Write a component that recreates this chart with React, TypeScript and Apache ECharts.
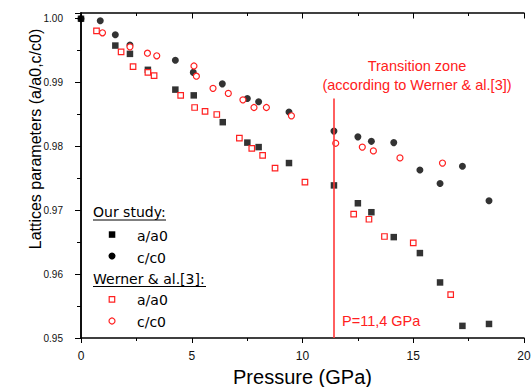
import React, { useEffect, useRef } from "react";
import * as echarts from "echarts";

// Our study
const oursA: number[][] = [
  [0, 1.0], [1.55, 0.9958], [2.21, 0.9945], [3.02, 0.992], [4.26, 0.9889],
  [5.09, 0.988], [6.4, 0.9838], [7.51, 0.9806], [8.02, 0.9799], [9.39, 0.9774],
  [11.42, 0.9739], [12.5, 0.9711], [13.11, 0.9697], [14.12, 0.9658], [15.3, 0.9633],
  [16.21, 0.9587], [17.22, 0.9519], [18.42, 0.9522],
];
const oursC: number[][] = [
  [0, 1.0], [0.87, 0.9997], [1.55, 0.9975], [2.21, 0.9959], [4.26, 0.9935],
  [5.07, 0.9916], [6.38, 0.9898], [7.51, 0.9875], [8.02, 0.987], [9.39, 0.9854],
  [11.42, 0.9824], [12.5, 0.9815], [13.11, 0.9808], [14.12, 0.9806], [15.3, 0.9763],
  [16.21, 0.9742], [17.22, 0.9769], [18.42, 0.9715],
];
// Werner & al.[3]
const wernerA: number[][] = [
  [0.7, 0.9981], [1.81, 0.9948], [2.35, 0.9925], [3.02, 0.9916], [3.3, 0.9911],
  [4.5, 0.988], [5.13, 0.9861], [5.6, 0.9855], [6.13, 0.985], [7.15, 0.9813],
  [7.71, 0.9797], [8.2, 0.9786], [8.76, 0.9766], [10.11, 0.9744], [12.31, 0.9694],
  [13.0, 0.9686], [13.7, 0.9659], [15.0, 0.9649], [16.69, 0.9568],
];
const wernerC: number[][] = [
  [0.97, 0.9978], [2.21, 0.9956], [3.0, 0.9946], [3.42, 0.9942], [5.1, 0.9926],
  [5.21, 0.991], [5.96, 0.9891], [6.65, 0.9883], [7.31, 0.9873], [7.81, 0.9861],
  [8.37, 0.9861], [9.5, 0.9848], [11.5, 0.9805], [12.7, 0.9799], [13.2, 0.9793],
  [14.4, 0.9782], [16.32, 0.9774],
];

const transitionP = 11.4;
const transitionTop = 0.9875;
const xMin = 0, xMax = 20, xInterval = 5;
const yMin = 0.95, yMax = 1.0009, yInterval = 0.01;

const RED = "#ff2020";
const AX = "Liberation Sans";
const LEG = "DejaVu Sans";

export default function App() {
  const ref = useRef<HTMLDivElement>(null);
  useEffect(() => {
    document.body.style.margin = "0";
    document.body.style.overflow = "hidden";
    if (!ref.current) return;
    const chart = echarts.init(ref.current, null, { renderer: "svg" });
    const axisLine = { show: true, lineStyle: { color: "#000", width: 1.5 } };
    const yLabelFmt = (v: number) =>
      Math.abs(v * 100 - Math.round(v * 100)) < 1e-6 ? v.toFixed(2) : "";
    chart.setOption({
      animation: false,
      backgroundColor: "#fff",
      grid: { left: 81, right: 7, top: 13, bottom: 49, containLabel: false, outerBoundsMode: "none" },
      xAxis: [
        {
          type: "value", position: "bottom", min: xMin, max: xMax, interval: xInterval,
          axisLine,
          axisTick: { show: true, inside: false, length: 5, lineStyle: { color: "#000", width: 1 } },
          minorTick: { show: true, splitNumber: 2, length: 3, lineStyle: { color: "#000", width: 1 } },
          splitLine: { show: false },
          axisLabel: { fontFamily: AX, fontSize: 12, color: "#111", margin: 12 },
          name: "Pressure (GPa)", nameLocation: "middle", nameGap: 28,
          nameTextStyle: { fontFamily: AX, fontSize: 20, color: "#000" },
        },
        {
          type: "value", position: "top", min: xMin, max: xMax, interval: xInterval,
          axisLine,
          axisTick: { show: true, inside: true, length: 5.5, lineStyle: { color: "#000", width: 1 } },
          minorTick: { show: true, splitNumber: 2, length: 3, lineStyle: { color: "#000", width: 1 } },
          splitLine: { show: false },
          axisLabel: { show: false },
        },
      ],
      yAxis: [
        {
          type: "value", position: "left", min: yMin, max: yMax, interval: yInterval,
          axisLine,
          axisTick: { show: true, inside: false, length: 5, lineStyle: { color: "#000", width: 1 } },
          minorTick: { show: true, splitNumber: 2, length: 4, lineStyle: { color: "#000", width: 1 } },
          splitLine: { show: false },
          axisLabel: { fontFamily: AX, fontSize: 10, color: "#111", margin: 18, formatter: yLabelFmt },
        },
        {
          type: "value", position: "right", min: yMin, max: yMax, interval: yInterval,
          axisLine,
          axisTick: { show: true, inside: true, length: 6, lineStyle: { color: "#000", width: 1 } },
          minorTick: { show: true, splitNumber: 2, length: 3, lineStyle: { color: "#000", width: 1 } },
          splitLine: { show: false },
          axisLabel: { show: false },
        },
      ],
      series: [
        {
          type: "scatter", name: "Our study a/a0", data: oursA, symbol: "rect", symbolSize: 6.5,
          itemStyle: { color: "#000" },
        },
        {
          type: "scatter", name: "Our study c/c0", data: oursC, symbol: "circle", symbolSize: 7,
          itemStyle: { color: "#000" },
        },
        {
          type: "scatter", name: "Werner a/a0", data: wernerA, symbol: "rect", symbolSize: 5.5,
          itemStyle: { color: "#fff", borderColor: RED, borderWidth: 1.2, opacity: 1 },
        },
        {
          type: "scatter", name: "Werner c/c0", data: wernerC, symbol: "circle", symbolSize: 6,
          itemStyle: { color: "#fff", borderColor: RED, borderWidth: 1.2, opacity: 1 },
          markLine: {
            silent: true, symbol: ["none", "none"], label: { show: false },
            lineStyle: { color: "#ff3838", width: 1.6, type: "solid", opacity: 1 },
            emphasis: { disabled: true },
            data: [[{ coord: [transitionP, yMin] }, { coord: [transitionP, transitionTop] }]],
          },
        },
      ],
      graphic: [
        {
          type: "text", x: 35.5, y: 139, rotation: Math.PI / 2,
          style: { text: "Lattices parameters (a/a0,c/c0)", font: `16px "${AX}"`, fill: "#000", align: "center", verticalAlign: "middle" },
        },
        {
          type: "text", x: 417, y: 66,
          style: { text: "Transition zone", font: `14.5px "${AX}"`, fill: RED, align: "center", verticalAlign: "middle" },
        },
        {
          type: "text", x: 417, y: 85,
          style: { text: "(according to Werner & al.[3])", font: `14.5px "${AX}"`, fill: RED, align: "center", verticalAlign: "middle" },
        },
        {
          type: "text", x: 342, y: 321,
          style: { text: "P=11,4 GPa", font: `14.5px "${AX}"`, fill: RED, align: "left", verticalAlign: "middle" },
        },
        // legend
        {
          type: "text", x: 93, y: 212,
          style: { text: "Our study:", font: `14px "${LEG}"`, fill: "#000", align: "left", verticalAlign: "middle" },
        },
        { type: "line", shape: { x1: 93, y1: 220, x2: 166, y2: 220 }, style: { stroke: "#000", lineWidth: 1 } },
        { type: "rect", shape: { x: 108.8, y: 231.3, width: 6.5, height: 6.5 }, style: { fill: "#000" } },
        {
          type: "text", x: 137, y: 235.5,
          style: { text: "a/a0", font: `14px "${LEG}"`, fill: "#000", align: "left", verticalAlign: "middle" },
        },
        { type: "circle", shape: { cx: 112, cy: 256, r: 3.5 }, style: { fill: "#000" } },
        {
          type: "text", x: 137, y: 257.5,
          style: { text: "c/c0", font: `14px "${LEG}"`, fill: "#000", align: "left", verticalAlign: "middle" },
        },
        {
          type: "text", x: 93, y: 279,
          style: { text: "Werner & al.[3]:", font: `14px "${LEG}"`, fill: "#000", align: "left", verticalAlign: "middle" },
        },
        { type: "line", shape: { x1: 93, y1: 286.5, x2: 206, y2: 286.5 }, style: { stroke: "#000", lineWidth: 1 } },
        { type: "rect", shape: { x: 109.2, y: 296.7, width: 5.5, height: 5.5 }, style: { fill: "#fff", stroke: RED, lineWidth: 1.2 } },
        {
          type: "text", x: 137, y: 300,
          style: { text: "a/a0", font: `14px "${LEG}"`, fill: "#000", align: "left", verticalAlign: "middle" },
        },
        { type: "circle", shape: { cx: 112, cy: 321, r: 3 }, style: { fill: "#fff", stroke: RED, lineWidth: 1.2 } },
        {
          type: "text", x: 137, y: 322,
          style: { text: "c/c0", font: `14px "${LEG}"`, fill: "#000", align: "left", verticalAlign: "middle" },
        },
      ],
    });
    return () => chart.dispose();
  }, []);
  return <div ref={ref} style={{ width: 531, height: 387 }} />;
}
